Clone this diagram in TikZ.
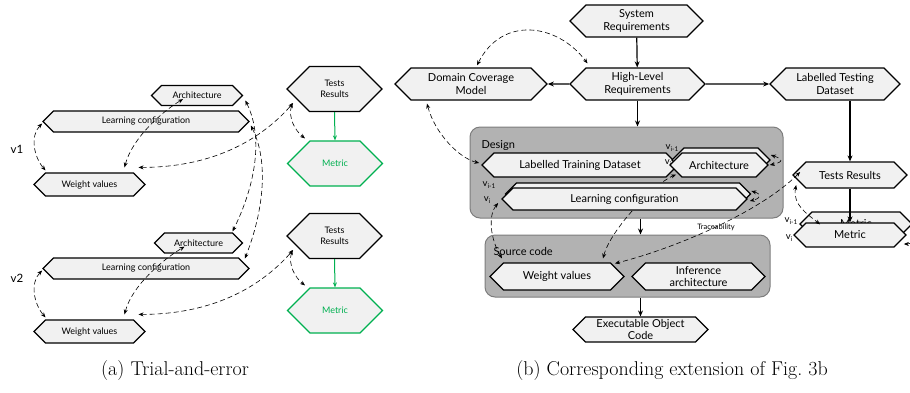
\documentclass[tikz,border=0pt]{standalone}
\usepackage{fontspec}
\newfontfamily\lato{Lato}
\usetikzlibrary{shapes.symbols, arrows.meta}
\usetikzlibrary{positioning}

\definecolor{hexfill}{RGB}{241,241,241}
\definecolor{boxfill}{RGB}{178,178,178}
\definecolor{boxline}{RGB}{125,125,125}
\definecolor{metricgreen}{RGB}{0,176,80}

\tikzstyle{hexa}  = [signal, signal to=east and west, signal pointer angle=90, draw=black, line width=1.2pt, fill=hexfill, align=center, inner sep=1pt]
\tikzstyle{hexs}  = [hexa, font=\lato\fontsize{9}{11}\selectfont]
\tikzstyle{hexb}  = [hexa, font=\lato\fontsize{11}{12.5}\selectfont]
\tikzstyle{area}  = [draw=boxline, fill=boxfill, rounded corners=10pt, line width=1pt]
\tikzstyle{arrow} = [line width=1.2pt,-{Stealth[length=6pt,width=5pt]}]
\tikzstyle{trace} = [dash pattern=on 5pt off 3pt, line width=0.6pt, {Stealth[length=5pt,width=4pt]}-{Stealth[length=5pt,width=4pt]}]
\newcommand{\vsub}[1]{v\raisebox{-2.5pt}{\fontsize{6.5}{7}\selectfont #1}}

\begin{document}
\begin{tikzpicture}[x=1pt,y=-1pt]
  \useasboundingbox (0,0) rectangle (910,392);

  % (a) first trial
  \node[hexs, minimum width=91, minimum height=20] (arch1) at (197,95.5) {Architecture};
  \node[hexs, minimum width=206, minimum height=21] (lc1) at (146,121.5) {Learning configuration};
  \node[hexs, minimum width=111, minimum height=23] (wv1) at (89.5,184.5) {Weight values};
  \node[hexs, minimum width=95, minimum height=45] (tr1) at (334.5,89) {Tests\\Results};
  \node[hexs, draw=metricgreen, text=metricgreen, minimum width=95, minimum height=45] (met1) at (335,163.5) {Metric};
  \node[font=\lato\fontsize{11.5}{13}\selectfont] (v1) at (17,149) {v1};

  % (a) second trial
  \node[hexs, minimum width=88, minimum height=20] (arch2) at (198.5,243) {Architecture};
  \node[hexs, minimum width=206, minimum height=21] (lc2) at (146,268.5) {Learning configuration};
  \node[hexs, minimum width=111, minimum height=23] (wv2) at (89.5,331.5) {Weight values};
  \node[hexs, minimum width=95, minimum height=45] (tr2) at (334.5,236) {Tests\\Results};
  \node[hexs, draw=metricgreen, text=metricgreen, minimum width=95, minimum height=45] (met2) at (335,310.5) {Metric};
  \node[font=\lato\fontsize{11.5}{13}\selectfont] (v2) at (17,278) {v2};

  \draw[line width=1pt, draw=metricgreen, -{Stealth[length=5pt,width=4pt]}] (tr1.south) -- (met1.north);
  \draw[line width=1pt, draw=metricgreen, -{Stealth[length=5pt,width=4pt]}] (tr2.south) -- (met2.north);

  \draw[trace] ([yshift=-2pt]lc1.west) .. controls +(-12,12) and +(-12,-14) .. ([xshift=-44pt,yshift=2pt]wv1.north);
  \draw[trace] ([xshift=35pt,yshift=5pt]wv1.north) .. controls +(8,-30) and +(-20,12) .. ([xshift=-14pt,yshift=7pt]arch1.south);
  \draw[trace] ([xshift=6pt,yshift=-14pt]tr1.west) .. controls +(-4,15) and +(-10,-8) .. ([xshift=-30pt,yshift=2pt]met1.north);
  \draw[trace] ([xshift=49pt,yshift=5pt]wv1.north) .. controls +(70,0) and +(-35,40) .. ([xshift=7pt,yshift=-14pt]tr1.west);
  \draw[trace] ([xshift=2pt,yshift=-5pt]arch1.east) .. controls +(20,40) and +(20,-40) .. ([xshift=34pt,yshift=1pt]arch2.north);
  \draw[trace] ([xshift=1pt,yshift=-4pt]lc1.east) .. controls +(20,40) and +(16,-40) .. ([xshift=-5pt,yshift=10pt]lc2.east);

  \draw[trace] ([yshift=-2pt]lc2.west) .. controls +(-12,12) and +(-12,-14) .. ([xshift=-44pt,yshift=2pt]wv2.north);
  \draw[trace] ([xshift=35pt,yshift=5pt]wv2.north) .. controls +(8,-30) and +(-20,12) .. ([xshift=-14pt,yshift=7pt]arch2.south);
  \draw[trace] ([xshift=6pt,yshift=-14pt]tr2.west) .. controls +(-4,15) and +(-10,-8) .. ([xshift=-30pt,yshift=2pt]met2.north);
  \draw[trace] ([xshift=49pt,yshift=5pt]wv2.north) .. controls +(70,0) and +(-35,40) .. ([xshift=7pt,yshift=-14pt]tr2.west);

  % (b) extension
  \node[area, minimum width=313, minimum height=91] (design) at (626.5,172.5) {};
  \node[area, minimum width=285, minimum height=62] (source) at (627.5,266) {};
  \node[font=\lato\fontsize{11}{12}\selectfont, anchor=west] (designlbl) at (478,145) {Design};
  \node[font=\lato\fontsize{11}{12}\selectfont, anchor=west] (sourcelbl) at (490,251) {Source code};

  \node[hexb, minimum width=133, minimum height=32] (sysreq) at (636.5,21) {System\\Requirements};
  \node[hexb, minimum width=135, minimum height=32] (hlr) at (637.5,84) {High-Level\\Requirements};
  \node[hexb, minimum width=152, minimum height=32] (dcm) at (471,84) {Domain Coverage\\Model};
  \node[hexb, minimum width=130, minimum height=32] (ltd) at (835,84) {Labelled Testing\\Dataset};

  \node[hexb, minimum width=196, minimum height=24] (ltrain) at (580,165) {Labelled Training Dataset};
  \node[hexb, minimum width=98, minimum height=24] (archB) at (721,160) {};
  \node[hexb, minimum width=98, minimum height=24] (archF) at (719,165) {Architecture};
  \node[hexb, minimum width=134, minimum height=27] (wvS) at (557,276.5) {Weight values};
  \node[hexb, minimum width=133, minimum height=27] (infarch) at (698.5,276.5) {Inference\\architecture};
  \node[hexb, minimum width=135, minimum height=25] (eoc) at (640.5,329.5) {Executable Object\\Code};

  \node[hexb, minimum width=114, minimum height=26] (testsR) at (850,175) {Tests Results};
  \node[hexb, minimum width=112, minimum height=24] (metB) at (856,224) {Metric};
  \node[hexb, minimum width=112, minimum height=24] (metF) at (850,235) {Metric};

  % hidden behind the learning configuration
  \draw[trace] ([xshift=46pt,yshift=4pt]wvS.north) .. controls +(8,-30) and +(-20,8) .. ([xshift=-43pt,yshift=3pt]archF.south);

  \node[hexb, minimum width=245, minimum height=22] (lcB) at (628,194) {};
  \node[hexb, minimum width=245, minimum height=22] (lcF) at (624.5,199) {Learning configuration};

  \node[font=\lato\fontsize{9.5}{10}\selectfont] (varchB) at (672,148) {\vsub{i-1}};
  \node[font=\lato\fontsize{9.5}{10}\selectfont] (varchF) at (668,163) {\vsub{i}};
  \node[font=\lato\fontsize{9.5}{10}\selectfont] (vlcB) at (489,185) {\vsub{i-1}};
  \node[font=\lato\fontsize{9.5}{10}\selectfont] (vlcF) at (487,200) {\vsub{i}};
  \node[font=\lato\fontsize{9.5}{10}\selectfont] (vmetB) at (791,221) {\vsub{i-1}};
  \node[font=\lato\fontsize{9.5}{10}\selectfont] (vmetF) at (789,238) {\vsub{i}};
  \node[font=\lato\fontsize{7.5}{8}\selectfont] (tracelbl) at (716,227) {Traceability};

  \draw[arrow] (sysreq) -- (hlr);
  \draw[arrow] (hlr) -- (dcm);
  \draw[arrow] (hlr) -- (ltd);
  \draw[arrow] (hlr.south) -- (hlr.south |- design.north);
  \draw[arrow] (eoc.north |- design.south) -- (eoc.north |- source.north);
  \draw[arrow] (eoc.north |- source.south) -- (eoc.north);
  \draw[arrow] (testsR.north |- ltd.south) -- (testsR.north);
  \draw[arrow] (testsR.south) -- (metF.north);

  \draw[trace] ([xshift=6pt,yshift=2pt]dcm.north) .. controls +(25,-50) and +(-30,-40) .. ([xshift=-50pt,yshift=4pt]hlr.north);
  \draw[trace] ([xshift=-44pt,yshift=-3pt]dcm.south) .. controls +(8,30) and +(-20,-5) .. ([xshift=-2pt,yshift=2pt]ltrain.west);
  \draw[trace] ([xshift=-3pt,yshift=-4pt]lcF.west) .. controls +(-10,12) and +(-12,-20) .. ([xshift=-55pt,yshift=4pt]wvS.north);
  \draw[trace] ([xshift=8pt,yshift=3pt]testsR.west) .. controls +(-40,40) and +(60,-15) .. ([xshift=58pt,yshift=-1pt]wvS.north);
  \draw[trace] ([xshift=4pt,yshift=-10pt]testsR.west) .. controls +(-4,20) and +(-12,-10) .. ([xshift=-30pt,yshift=-2pt]metF.north);
  \draw[trace] ([yshift=5pt]archB.east) .. controls +(12,4) and +(14,-3) .. ([xshift=1pt]archF.east);
  \draw[trace] ([yshift=3pt]lcB.east) .. controls +(10,3) and +(12,-3) .. ([xshift=2pt,yshift=-2pt]lcF.east);
  \draw[trace] (metB.east) .. controls +(12,5) and +(12,0) .. ([xshift=-3pt,yshift=-9pt]metF.east);

  % captions
  \node[font=\fontsize{20}{24}\selectfont] (capa) at (175,371) {(a) Trial-and-error};
  \node[font=\fontsize{20}{24}\selectfont] (capb) at (672,371) {(b) Corresponding extension of Fig.~3b};
\end{tikzpicture}
\end{document}
